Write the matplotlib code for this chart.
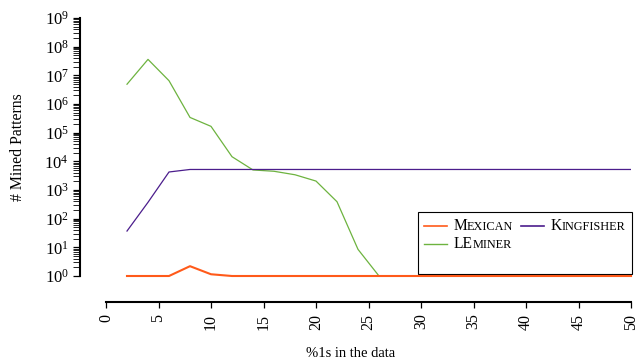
import matplotlib
matplotlib.use('Agg')
import matplotlib.pyplot as plt
from matplotlib.offsetbox import AnchoredOffsetbox, HPacker, VPacker, TextArea, DrawingArea
from matplotlib.lines import Line2D
from matplotlib.ticker import LogLocator, FixedLocator, NullFormatter

plt.rcParams['font.family'] = ['Liberation Serif', 'DejaVu Serif']

# ---- data ----
x = [2, 4, 6, 8, 10, 12, 14, 16, 18, 20, 22, 24, 26, 28, 30, 32, 34, 36, 38, 40, 42, 44, 46, 48, 50]
mexican = [1, 1, 1, 2.2, 1.15, 1, 1, 1, 1, 1, 1, 1, 1, 1, 1, 1, 1, 1, 1, 1, 1, 1, 1, 1, 1]
kingfisher = [37, 372, 4250, 5200, 5200, 5200, 5200, 5200, 5200, 5200, 5200, 5200, 5200,
              5200, 5200, 5200, 5200, 5200, 5200, 5200, 5200, 5200, 5200, 5200, 5200]
leminer = [4.9e6, 3.6e7, 6.5e6, 3.4e5, 1.66e5, 1.45e4, 5000, 4500, 3400, 2050, 390, 8.5, 1,
           1, 1, 1, 1, 1, 1, 1, 1, 1, 1, 1, 1]
series_names = ['Mexican', 'Kingfisher', 'LEminer']
x_ticks = [0, 5, 10, 15, 20, 25, 30, 35, 40, 45, 50]

c_mex = '#ff5a1a'
c_king = '#4b1d8c'
c_lem = '#6db33f'

fig = plt.figure(figsize=(6.36, 3.62), dpi=100)
ax = fig.add_axes([106/636, 1-276/362, 525/636, 258/362])

ax.plot(x, leminer, color=c_lem, lw=0.9, zorder=2)
ax.plot(x, kingfisher, color=c_king, lw=0.9, zorder=3)
ax.plot(x, mexican, color=c_mex, lw=1.5, zorder=5, clip_on=False)

ax.set_yscale('log')
ax.set_ylim(1, 1e9)
ax.set_xlim(0, 50)

for s in ['top', 'right']:
    ax.spines[s].set_visible(False)
ax.spines['left'].set_position(('outward', 18.7))
ax.spines['bottom'].set_position(('outward', 19))
ax.spines['left'].set_linewidth(1.5)
ax.spines['bottom'].set_linewidth(1.5)

ax.yaxis.set_major_locator(LogLocator(base=10, numticks=20))
ax.yaxis.set_minor_locator(LogLocator(base=10, subs=range(2, 10), numticks=200))
ax.yaxis.set_minor_formatter(NullFormatter())
ax.tick_params(axis='y', which='major', direction='out', length=5, width=0.9, labelsize=12, pad=3)
ax.tick_params(axis='y', which='minor', direction='out', length=5, width=0.6)

ax.xaxis.set_major_locator(FixedLocator(x_ticks))
ax.set_xticklabels([str(t) for t in x_ticks], rotation=90)
ax.tick_params(axis='x', which='major', direction='out', length=4, width=0.9, labelsize=11.5, pad=4)
ax.tick_params(axis='x', which='minor', length=0)

ax.set_xlabel('%1s in the data', fontsize=10.5)
ax.xaxis.set_label_coords(0.4667, -0.302)
ax.xaxis.label.set_va('center')
ax.set_ylabel('# Mined Patterns', fontsize=11.3)
ax.yaxis.set_label_coords(-0.168, 0.5)
ax.yaxis.label.set_va('center')

# ---- legend with small caps ----
BIG, SMALL = 11.2, 8.8


def smallcaps(label):
    parts = []
    cur, cur_big = '', None
    for ch in label:
        big = ch.isupper()
        if cur_big is None or big == cur_big:
            cur += ch
        else:
            parts.append((cur, cur_big))
            cur = ch
        cur_big = big
    parts.append((cur, cur_big))
    areas = [TextArea(p.upper(), textprops=dict(size=BIG if b else SMALL, color='black'))
             for p, b in parts]
    return HPacker(children=areas, sep=0, pad=0, align='baseline')


def entry(label, color, lw):
    da = DrawingArea(16.5, 8, 0, 0)
    da.add_artist(Line2D([0, 16.5], [4, 4], color=color, lw=lw))
    return HPacker(children=[da, smallcaps(label)], sep=4.7, pad=0, align='center')


e_mex = entry(series_names[0], c_mex, 1.2)
e_king = entry(series_names[1], c_king, 1.2)
e_lem = entry(series_names[2], c_lem, 1.0)
spacer = DrawingArea(1, 9.0, 0, 0)
col1 = VPacker(children=[e_mex, e_lem, spacer], sep=1.8, pad=0, align='left')
col2 = VPacker(children=[e_king], sep=1.8, pad=0, align='left')
box = HPacker(children=[col1, col2], sep=5.8, pad=0, align='top')
anch = AnchoredOffsetbox(loc='upper right', child=box, pad=0.45, borderpad=0, frameon=True,
                         bbox_to_anchor=(632/636, 1-211.7/362), bbox_transform=fig.transFigure,
                         prop=dict(size=10))
anch.patch.set_edgecolor('black')
anch.patch.set_linewidth(0.8)
anch.set_zorder(4)
ax.add_artist(anch)

fig.savefig('out.png', dpi=100)
